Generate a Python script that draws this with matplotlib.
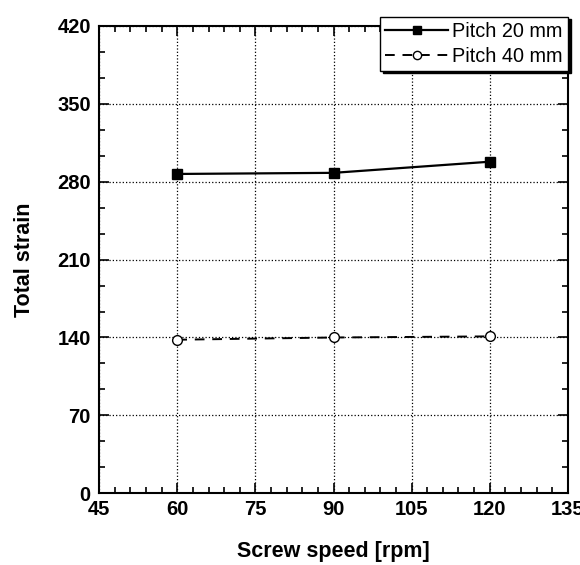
import matplotlib.pyplot as plt
from matplotlib.ticker import MultipleLocator

# data
speed = [60, 90, 120]
pitch20 = [287, 288, 298]
pitch40 = [138, 140, 141]

plt.rcParams['font.family'] = ['Liberation Sans', 'DejaVu Sans']

fig = plt.figure(figsize=(5.8, 5.65), dpi=100)
ax = fig.add_axes([0.171, 0.127, 0.808, 0.827])

ax.plot(speed, pitch20, color='black', lw=1.6, marker='s', markersize=6.5,
        markerfacecolor='black', label='Pitch 20 mm')
ax.plot(speed, pitch40, color='black', lw=1.4, linestyle=(0, (5, 4)), marker='o',
        markersize=7, markerfacecolor='white', markeredgewidth=1.0, label='Pitch 40 mm')

ax.set_xlim(45, 135)
ax.set_ylim(0, 420)
ax.xaxis.set_major_locator(MultipleLocator(15))
ax.xaxis.set_minor_locator(MultipleLocator(3))
ax.yaxis.set_major_locator(MultipleLocator(70))
ax.yaxis.set_minor_locator(MultipleLocator(70 / 3))

ax.tick_params(which='both', direction='in', top=True, right=True, width=1.2)
ax.tick_params(which='major', length=7, labelsize=14.5, pad=5)
ax.tick_params(which='minor', length=4)
ax.tick_params(axis='y', pad=6)
for lab in ax.get_xticklabels() + ax.get_yticklabels():
    lab.set_fontweight('bold')
for s in ax.spines.values():
    s.set_linewidth(1.5)

ax.grid(which='major', color='black', linestyle=':', linewidth=0.9)

ax.set_xlabel('Screw speed [rpm]', fontsize=15.5, fontweight='bold', labelpad=16)
ax.set_ylabel('Total strain', fontsize=15.5, fontweight='bold', labelpad=16)

leg = ax.legend(loc='upper right', bbox_to_anchor=(1.0, 1.02), fontsize=14.3,
                frameon=True, fancybox=False, shadow={'color': 'black', 'alpha': 1},
                borderpad=0.25, handlelength=3.2, handletextpad=0.2, labelspacing=0.3,
                borderaxespad=0, markerscale=0.85)
leg.get_frame().set_edgecolor('black')
leg.get_frame().set_linewidth(1.0)
leg.get_frame().set_alpha(1)

fig.savefig('out.png', dpi=100)
